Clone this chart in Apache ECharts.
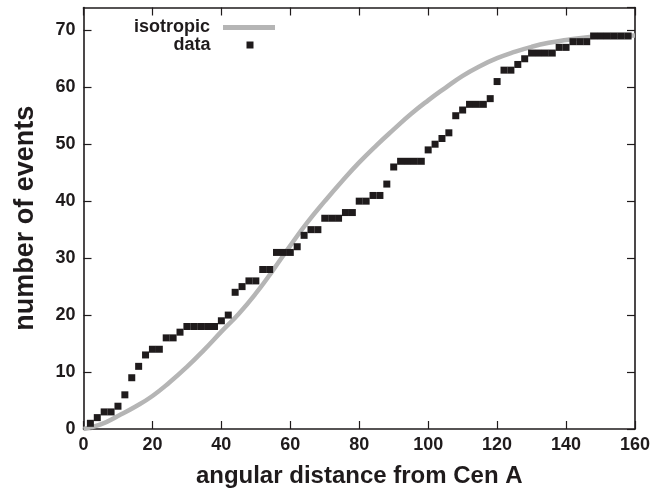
<!DOCTYPE html>
<html><head><meta charset="utf-8">
<script src="https://cdn.jsdelivr.net/npm/echarts@6/dist/echarts.min.js"></script>
<style>html,body{margin:0;padding:0;background:#fff}#c{width:653px;height:493px}</style>
</head><body><div id="c"></div>
<script>
// cumulative number of events vs angular distance (sampled every 2 degrees)
const dataX = [2,4,6,8,10,12,14,16,18,20,22,24,26,28,30,32,34,36,38,40,
  42,44,46,48,50,52,54,56,58,60,62,64,66,68,70,72,74,76,78,80,
  82,84,86,88,90,92,94,96,98,100,102,104,106,108,110,112,114,116,118,120,
  122,124,126,128,130,132,134,136,138,140,142,144,146,148,150,152,154,156,158];
const dataY = [1,2,3,3,4,6,9,11,13,14,14,16,16,17,18,18,18,18,18,19,
  20,24,25,26,26,28,28,31,31,31,32,34,35,35,37,37,37,38,38,40,
  40,41,41,43,46,47,47,47,47,49,50,51,52,55,56,57,57,57,58,61,
  63,63,64,65,66,66,66,66,67,67,68,68,68,69,69,69,69,69,69];
// isotropic expectation
const isoX = [0,5,10,15,20,25,30,35,40,45,50,55,60,65,70,75,80,85,90,95,100,
  105,110,115,120,125,130,135,140,145,150,155,160];
const isoY = [0,0.8,2.3,3.9,5.8,8.2,10.9,13.9,17.1,20.2,23.8,27.9,32.2,36.3,40.0,43.5,46.8,49.8,52.6,55.3,57.7,
  59.9,62.0,63.7,65.1,66.2,67.1,67.8,68.3,68.7,68.9,69.0,69.1];
const xTickValues = [0,20,40,60,80,100,120,140,160];
const yTickValues = [0,10,20,30,40,50,60,70];
const xTitle = 'angular distance from Cen A';
const yTitle = 'number of events';

const ink = '#1f1b1c';
const grey = '#b5b5b5';
const font = 'Liberation Sans, Arial, Helvetica, sans-serif';
const xStep = xTickValues[1] - xTickValues[0];
const yStep = yTickValues[1] - yTickValues[0];

function xAxisCfg(pos, main) {
  return {
    type: 'value', position: pos, min: xTickValues[0], max: xTickValues[xTickValues.length-1], interval: xStep,
    name: main ? xTitle : '', nameLocation: 'middle', nameGap: 35,
    nameTextStyle: {fontFamily: font, fontWeight: 'bold', fontSize: 24, color: ink},
    axisLine: {show: true, onZero: false, lineStyle: {color: ink, width: 1.6}},
    axisTick: {show: true, inside: true, length: 8, lineStyle: {color: ink, width: 1.2}},
    axisLabel: {show: main, margin: 7, fontFamily: font, fontWeight: 'bold', fontSize: 18, color: ink},
    splitLine: {show: false}
  };
}
function yAxisCfg(pos, main) {
  return {
    type: 'value', position: pos, min: yTickValues[0], max: 74, interval: yStep,
    name: main ? yTitle : '', nameLocation: 'middle', nameGap: 44, nameRotate: 90,
    nameTextStyle: {fontFamily: font, fontWeight: 'bold', fontSize: 27, color: ink},
    axisLine: {show: true, onZero: false, lineStyle: {color: ink, width: 1.6}},
    axisTick: {show: true, inside: true, length: 8, lineStyle: {color: ink, width: 1.2}},
    axisLabel: {show: main, margin: 8, fontFamily: font, fontWeight: 'bold', fontSize: 18, color: ink,
      showMaxLabel: false},
    splitLine: {show: false}
  };
}

const chart = echarts.init(document.getElementById('c'), null, {renderer: 'canvas'});
chart.setOption({
  animation: false,
  backgroundColor: '#ffffff',
  grid: {left: 83.5, right: 18, top: 7.5, bottom: 64, containLabel: false},
  xAxis: [xAxisCfg('bottom', true), xAxisCfg('top', false)],
  yAxis: [yAxisCfg('left', true), yAxisCfg('right', false)],
  legend: [
    {data: [{name: 'isotropic', icon: 'rect'}], orient: 'vertical', align: 'right', right: 373, top: 13.5,
     itemWidth: 52, itemHeight: 5, itemGap: 0, itemStyle: {color: grey, borderWidth: 0},
     textStyle: {fontFamily: font, fontWeight: 'bold', fontSize: 18, color: ink, padding: [0, 8, 0, 0]}},
    {data: [{name: 'data', icon: 'rect'}], orient: 'vertical', align: 'right', right: 394.5, top: 31,
     itemWidth: 7, itemHeight: 7, itemGap: 0, itemStyle: {color: ink, opacity: 1, borderWidth: 0},
     textStyle: {fontFamily: font, fontWeight: 'bold', fontSize: 18, color: ink, padding: [0, 31, 0, 0]}}
  ],
  series: [
    {name: 'isotropic', type: 'line', xAxisIndex: 0, yAxisIndex: 0,
     data: isoX.map((x, i) => [x, isoY[i]]), smooth: true, showSymbol: false, symbol: 'none',
     lineStyle: {color: grey, width: 4.5}, itemStyle: {color: grey}, z: 2},
    {name: 'data', type: 'scatter', xAxisIndex: 0, yAxisIndex: 0,
     data: dataX.map((x, i) => [x, dataY[i]]), symbol: 'rect', symbolSize: 7,
     itemStyle: {color: ink, opacity: 1}, z: 3}
  ]
});
</script>
</body></html>
